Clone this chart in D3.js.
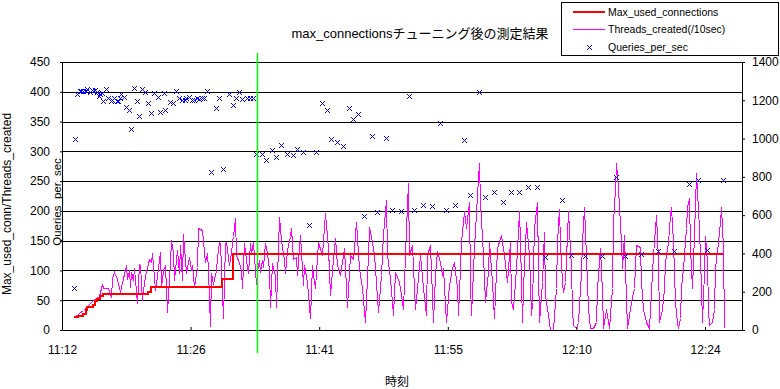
<!DOCTYPE html>
<html>
<head>
<meta charset="utf-8">
<script src="https://cdn.jsdelivr.net/npm/d3@7"></script>
<style>
  body { margin: 0; background: #fff; }
  svg { display: block; font-family: "Liberation Sans", Arial, "Noto Sans CJK JP", sans-serif; }
</style>
</head>
<body>
<div id="chart"></div>
<script>
// samples are 10-second intervals counted from 11:12:00

const titleText = "max_connectionsチューニング後の測定結果";
const seriesNames = ["Max_used_connections", "Threads_created(/10sec)", "Queries_per_sec"];

// category axis labels (every 87 samples)
const timeLabels = ["11:12", "11:26", "11:41", "11:55", "12:10", "12:24"];
const labelSamples = [0, 87, 174, 261, 348, 435];
const sampleCount = 460;

const leftTicks = [0, 50, 100, 150, 200, 250, 300, 350, 400, 450];
const rightTicks = [0, 200, 400, 600, 800, 1000, 1200, 1400];

// sample where max_connections was changed (green marker)
const tuningSample = 132;

// [sample, value] - step series
const maxUsedConnections = [
  [8, 21], [11, 24], [14, 27], [16, 33], [17, 39], [21, 42], [22, 49], [24, 52], [26, 57], [28, 60],
  [58, 64], [60, 72], [108, 85], [116, 127], [447, 127]
];

// [sample, value]
const threadsCreated = [
  [8, 21], [14, 34], [21, 50], [25, 57], [27, 77], [28, 70], [31, 70], [33, 55], [34, 87], [35, 98],
  [37, 85], [39, 64], [40, 73], [43, 109], [44, 85], [45, 101], [46, 73], [47, 98], [48, 84], [49, 104],
  [51, 45], [52, 111], [53, 109], [54, 50], [55, 67], [56, 90], [58, 113], [59, 120], [60, 115], [61, 129],
  [63, 67], [64, 90], [66, 131], [67, 73], [68, 101], [70, 109], [71, 31], [73, 115], [74, 151], [75, 131],
  [76, 84], [78, 134], [79, 95], [80, 143], [81, 84], [82, 162], [84, 95], [86, 123], [87, 101], [88, 109],
  [89, 73], [91, 106], [92, 171], [95, 168], [96, 131], [97, 115], [98, 129], [99, 101], [100, 6], [101, 95],
  [102, 78], [104, 101], [105, 123], [106, 148], [107, 146], [109, 20], [110, 146], [111, 148], [113, 109], [114, 129],
  [115, 148], [116, 157], [117, 188], [118, 126], [120, 112], [121, 101], [122, 70], [123, 146], [125, 106], [126, 95],
  [127, 146], [128, 129], [129, 148], [131, 78], [132, 98], [133, 118], [134, 98], [135, 118], [136, 106], [137, 146],
  [139, 129], [140, 101], [141, 39], [142, 112], [144, 90], [145, 39], [147, 190], [148, 151], [150, 118], [151, 95],
  [152, 134], [154, 157], [155, 171], [156, 120], [158, 123], [159, 92], [161, 159], [163, 76], [164, 109], [166, 81],
  [168, 20], [169, 109], [170, 92], [171, 70], [173, 148], [176, 126], [178, 196], [180, 137], [181, 59], [183, 120],
  [185, 154], [186, 109], [188, 92], [190, 126], [191, 137], [193, 39], [195, 126], [197, 120], [199, 182], [201, 104],
  [203, 70], [205, 14], [207, 126], [208, 173], [210, 148], [211, 126], [212, 104], [214, 31], [216, 92], [217, 162],
  [219, 218], [220, 126], [222, 87], [224, 25], [225, 98], [228, 81], [229, 59], [231, 36], [232, 126], [233, 171],
  [234, 246], [235, 126], [237, 143], [239, 36], [240, 70], [242, 126], [244, 70], [246, 25], [247, 126], [249, 143],
  [251, 14], [252, 92], [254, 132], [256, 115], [257, 92], [258, 104], [260, 14], [262, 76], [264, 104], [265, 115],
  [267, 70], [268, 25], [269, 104], [270, 148], [272, 199], [273, 171], [275, 215], [276, 81], [277, 25], [279, 137],
  [281, 227], [282, 280], [283, 215], [285, 126], [286, 47], [288, 98], [289, 148], [291, 81], [292, 20], [294, 137],
  [296, 154], [297, 159], [299, 126], [301, 81], [303, 148], [304, 47], [305, 36], [307, 104], [309, 199], [310, 148],
  [311, 14], [312, 70], [313, 143], [314, 182], [316, 126], [317, 25], [318, 47], [319, 171], [321, 215], [322, 104],
  [323, 14], [325, 81], [326, 165], [327, 59], [329, 25], [330, 0], [332, 0], [334, 70], [335, 148], [336, 204],
  [337, 148], [338, 81], [339, 64], [340, 81], [342, 199], [344, 104], [345, 36], [346, 8], [348, 3], [349, 14],
  [351, 98], [352, 148], [353, 207], [355, 81], [356, 36], [357, 3], [359, 3], [361, 14], [362, 70], [364, 137],
  [365, 64], [366, 3], [368, 36], [370, 3], [372, 70], [373, 182], [374, 238], [375, 280], [376, 238], [378, 148],
  [379, 104], [380, 159], [381, 104], [382, 3], [383, 14], [385, 47], [387, 70], [388, 143], [391, 140], [392, 81],
  [393, 36], [395, 14], [397, 3], [398, 36], [400, 126], [401, 171], [402, 193], [403, 120], [404, 14], [406, 36],
  [407, 70], [408, 115], [410, 148], [411, 193], [412, 207], [413, 148], [415, 47], [416, 14], [417, 3], [418, 20],
  [419, 70], [420, 104], [422, 171], [423, 207], [424, 221], [425, 137], [426, 70], [427, 115], [428, 210], [429, 263],
  [431, 171], [432, 70], [433, 14], [434, 98], [435, 157], [436, 115], [437, 36], [438, 8], [440, 14], [441, 36],
  [442, 104], [444, 148], [445, 182], [446, 207], [447, 140], [448, 3]
];

// [sample, queries per second] - right axis
const queriesPerSec = [
  [8, 219], [9, 996], [10, 1231], [12, 1249], [13, 1249], [14, 1249], [16, 1249], [17, 1259], [19, 1242], [20, 1254],
  [21, 1249], [22, 1256], [24, 1242], [25, 1224], [26, 1231], [27, 1236], [28, 1196], [30, 1257], [31, 1214], [33, 1196],
  [34, 1202], [35, 1214], [37, 1196], [38, 1196], [39, 1214], [40, 1231], [42, 1219], [43, 1167], [45, 1149], [47, 1050],
  [49, 1262], [51, 1196], [52, 1118], [54, 1259], [56, 1242], [58, 1184], [60, 1132], [62, 1236], [65, 1219], [66, 1137],
  [69, 1236], [70, 1149], [73, 1189], [75, 1184], [77, 1249], [79, 1210], [81, 1201], [83, 1201], [84, 1210], [86, 1217],
  [88, 1201], [89, 1201], [91, 1210], [93, 1207], [95, 1214], [96, 1210], [98, 1249], [101, 824], [104, 1158], [106, 1210],
  [109, 839], [113, 1231], [116, 1175], [118, 1210], [120, 1242], [122, 1207], [125, 1210], [127, 1210], [129, 1210], [131, 919],
  [135, 919], [138, 886], [142, 940], [145, 904], [148, 966], [152, 921], [156, 914], [159, 944], [163, 928], [167, 549],
  [172, 928], [176, 1184], [179, 1149], [182, 996], [186, 980], [190, 963], [194, 1158], [197, 1101], [200, 1127], [204, 596],
  [210, 1013], [213, 615], [219, 1003], [223, 627], [229, 622], [235, 1221], [238, 627], [244, 653], [250, 648], [256, 1080],
  [260, 627], [266, 653], [272, 993], [276, 705], [282, 1242], [286, 693], [292, 721], [298, 669], [304, 721], [309, 721],
  [315, 747], [321, 747], [327, 381], [338, 677], [344, 392], [354, 385], [365, 385], [375, 798], [381, 385], [392, 397],
  [403, 411], [414, 411], [424, 763], [430, 782], [436, 416], [447, 782]
];

const colors = { maxUsed: "#ff0000", threads: "#ff00ff", queries: "#0000ff", tuning: "#00ff00" };

const width = 780;
const height = 389;
const margin = { top: 62, right: 38, bottom: 59, left: 62 };

const x = d3.scaleLinear()
    .domain([0, sampleCount])
    .range([margin.left, width - margin.right]);

const yLeft = d3.scaleLinear()
    .domain([0, 450])
    .range([height - margin.bottom, margin.top]);

const yRight = d3.scaleLinear()
    .domain([0, 1400])
    .range([height - margin.bottom, margin.top]);

const svg = d3.select("#chart").append("svg")
    .attr("width", width)
    .attr("height", height)
    .attr("viewBox", [0, 0, width, height]);

const crisp = v => Math.round(v) + 0.5;

// horizontal gridlines from the left axis
svg.append("g")
    .attr("stroke", "#000")
    .attr("shape-rendering", "crispEdges")
    .selectAll("line")
    .data(leftTicks.filter(d => d > 0))
    .join("line")
    .attr("x1", x(0))
    .attr("x2", x(sampleCount))
    .attr("y1", d => crisp(yLeft(d)))
    .attr("y2", d => crisp(yLeft(d)));

// Threads_created
svg.append("path")
    .datum(threadsCreated)
    .attr("fill", "none")
    .attr("stroke", colors.threads)
    .attr("stroke-width", 1)
    .attr("shape-rendering", "crispEdges")
    .attr("d", d3.line().x(d => crisp(x(d[0]))).y(d => crisp(yLeft(d[1]))));

// Max_used_connections
svg.append("path")
    .datum(maxUsedConnections)
    .attr("fill", "none")
    .attr("stroke", colors.maxUsed)
    .attr("stroke-width", 2)
    .attr("shape-rendering", "crispEdges")
    .attr("d", d3.line().curve(d3.curveStepAfter).x(d => Math.round(x(d[0]))).y(d => Math.round(yLeft(d[1]))));

// Queries_per_sec markers
const cross = "M-2.5,-2.5L2.5,2.5M-2.5,2.5L2.5,-2.5";
svg.append("g")
    .attr("fill", "none")
    .attr("stroke", colors.queries)
    .attr("stroke-width", 1)
    .selectAll("path")
    .data(queriesPerSec)
    .join("path")
    .attr("transform", d => `translate(${crisp(x(d[0]))},${crisp(yRight(d[1]))})`)
    .attr("d", cross);

// axes
const styleAxis = g => g
    .attr("font-size", 12)
    .attr("font-family", null)
    .call(g => g.selectAll("text").attr("fill", "#000"))
    .call(g => g.selectAll("line, path").attr("stroke", "#000"));

svg.append("g")
    .attr("transform", `translate(${x(0)},0)`)
    .call(d3.axisLeft(yLeft).tickValues(leftTicks).tickSize(2).tickSizeOuter(0).tickPadding(10))
    .call(styleAxis);

svg.append("g")
    .attr("transform", `translate(${x(sampleCount)},0)`)
    .call(d3.axisRight(yRight).tickValues(rightTicks).tickFormat(d3.format("d"))
        .tickSize(3).tickSizeOuter(0).tickPadding(7))
    .call(styleAxis);

svg.append("g")
    .attr("transform", `translate(0,${yLeft(0)})`)
    .call(d3.axisBottom(x)
        .tickValues(labelSamples)
        .tickFormat((d, i) => timeLabels[i])
        .tickSizeInner(-3)
        .tickSizeOuter(0)
        .tickPadding(15))
    .call(styleAxis);

// tuning marker line
svg.append("line")
    .attr("x1", crisp(x(tuningSample)))
    .attr("x2", crisp(x(tuningSample)))
    .attr("y1", yLeft(450) - 9)
    .attr("y2", yLeft(0) + 23)
    .attr("stroke", colors.tuning)
    .attr("stroke-width", 1.5);

// titles
svg.append("text")
    .attr("x", 420)
    .attr("y", 38)
    .attr("text-anchor", "middle")
    .attr("font-size", 13)
    .text(titleText);

svg.append("text")
    .attr("transform", `translate(11,${(yLeft(0) + yLeft(450)) / 2 + 8}) rotate(-90)`)
    .attr("text-anchor", "middle")
    .attr("font-size", 12)
    .text("Max_used_conn/Threads_created");

svg.append("text")
    .attr("transform", `translate(61,${(yLeft(0) + yLeft(450)) / 2 + 6}) rotate(-90)`)
    .attr("text-anchor", "middle")
    .attr("font-size", 11.5)
    .text("Queries_per_sec");

svg.append("text")
    .attr("x", 397)
    .attr("y", 386)
    .attr("text-anchor", "middle")
    .attr("font-size", 12)
    .text("時刻");

// legend
const legend = svg.append("g").attr("transform", "translate(561,2)");

legend.append("rect")
    .attr("x", 0.5)
    .attr("y", 0.5)
    .attr("width", 217)
    .attr("height", 53)
    .attr("fill", "#fff")
    .attr("stroke", "#000");

const rows = [10, 27, 45];

legend.append("line")
    .attr("x1", 12).attr("x2", 44)
    .attr("y1", rows[0]).attr("y2", rows[0])
    .attr("stroke", colors.maxUsed)
    .attr("stroke-width", 2);

legend.append("line")
    .attr("x1", 12).attr("x2", 44)
    .attr("y1", rows[1] + 0.5).attr("y2", rows[1] + 0.5)
    .attr("stroke", colors.threads);

legend.append("path")
    .attr("transform", `translate(28.5,${rows[2] + 0.5})`)
    .attr("d", cross)
    .attr("fill", "none")
    .attr("stroke", colors.queries);

legend.selectAll("text.name")
    .data(seriesNames)
    .join("text")
    .attr("class", "name")
    .attr("x", 47)
    .attr("y", (d, i) => rows[i] + 4)
    .attr("font-size", 10.5)
    .text(d => d);
</script>
</body>
</html>
